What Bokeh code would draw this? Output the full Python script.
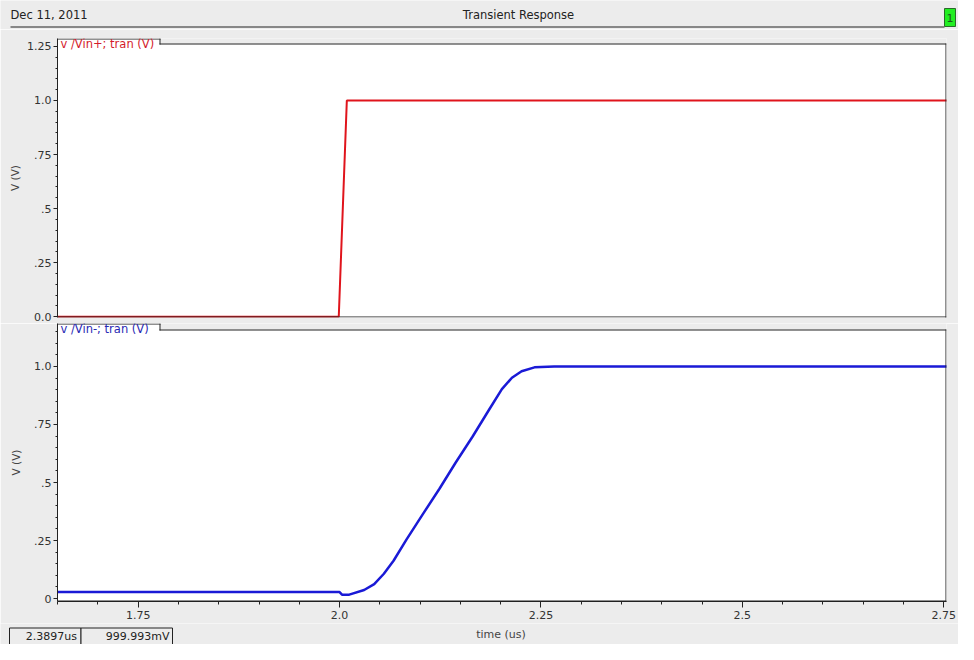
import numpy as np
from bokeh.plotting import figure
from bokeh.layouts import column
from bokeh.models import FixedTicker, Label, BoxAnnotation, Range1d
from bokeh.embed import file_html
from bokeh.resources import INLINE

# ---------------- data ----------------
date_text = "Dec 11, 2011"
title_text = "Transient Response"
top_series = "v /Vin+; tran (V)"
bottom_series = "v /Vin-; tran (V)"
x_label = "time (us)"
y_label = "V (V)"
cursor_x_text = "2.3897us"
cursor_y_text = "999.993mV"
window_num = "1"

vin_p_t = [1.65, 1.999, 2.009, 2.76]
vin_p_v = [0.0, 0.0, 1.0, 1.0]

vin_n_t = [1.65, 2.0, 2.003, 2.012, 2.0305, 2.043, 2.055, 2.067, 2.083, 2.104,
           2.124, 2.144, 2.165, 2.185, 2.2015, 2.214, 2.226, 2.242, 2.2665, 2.76]
vin_n_v = [0.028, 0.028, 0.017, 0.017, 0.037, 0.062, 0.107, 0.163, 0.254, 0.367,
           0.473, 0.585, 0.697, 0.810, 0.902, 0.951, 0.979, 0.996, 1.0, 1.0]

x_ticks = [1.75, 2.0, 2.25, 2.5, 2.75]
x_tick_labels = ["1.75", "2.0", "2.25", "2.5", "2.75"]
top_y_ticks = [0.0, 0.25, 0.5, 0.75, 1.0, 1.25]
top_y_labels = ["0.0", ".25", ".5", ".75", "1.0", "1.25"]
bot_y_ticks = [0.0, 0.25, 0.5, 0.75, 1.0]
bot_y_labels = ["0", ".25", ".5", ".75", "1.0"]

# ---------------- style ----------------
W = 958
FONT = "DejaVu Sans"
GRAY = "#ececec"
INK = "#222222"
RED = "#e0141c"
BLUE = "#1a1ad6"
XR = (1.6498, 2.7535)


def box(p, l, r, t, b, fill, line=None):
    p.add_layout(BoxAnnotation(left=l, right=r, top=t, bottom=b,
                               left_units="screen", right_units="screen",
                               top_units="screen", bottom_units="screen",
                               fill_color=fill, fill_alpha=1.0,
                               line_color=line if line else fill,
                               line_alpha=1.0 if line else 0.0,
                               line_width=1, level="overlay"))


def label(p, x, y, text, color, size, align="left"):
    p.add_layout(Label(x=x, y=y, x_units="screen", y_units="screen", text=text,
                       text_font=FONT, text_font_size=size, text_color=color,
                       text_align=align, text_baseline="middle", level="overlay"))


def strip_fig(h):
    p = figure(width=W, height=h, x_range=Range1d(0, 1), y_range=Range1d(0, 1),
               output_backend="svg", toolbar_location=None, title=None,
               x_axis_location=None, y_axis_location=None,
               min_border_left=0, min_border_right=0, min_border_top=0, min_border_bottom=0)
    p.frame_align = False
    p.border_fill_color = GRAY
    p.background_fill_color = GRAY
    p.outline_line_color = None
    p.grid.visible = False
    return p


def style_yaxis(p, ticks, labels, label_standoff):
    minor = [float(v) for v in np.round(np.arange(0, 1.3, 0.05), 2)]
    p.yaxis.ticker = FixedTicker(ticks=ticks, minor_ticks=minor)
    p.yaxis.major_label_overrides = {t: l for t, l in zip(ticks, labels)}
    p.yaxis.axis_label = y_label
    p.yaxis.axis_label_text_font = FONT
    p.yaxis.axis_label_text_font_size = "10.5px"
    p.yaxis.axis_label_text_font_style = "normal"
    p.yaxis.axis_label_text_color = "#444444"
    p.yaxis.axis_label_standoff = label_standoff
    p.yaxis.major_label_text_font = FONT
    p.yaxis.major_label_text_font_size = "11px"
    p.yaxis.major_label_text_color = "#333333"
    p.yaxis.major_label_standoff = 2
    p.yaxis.major_tick_out = 4
    p.yaxis.major_tick_in = 0
    p.yaxis.minor_tick_out = 2
    p.yaxis.minor_tick_in = 0
    p.yaxis.axis_line_color = INK
    p.yaxis.major_tick_line_color = INK
    p.yaxis.minor_tick_line_color = INK


def panel_fig(h, top, bottom, yr, xaxis):
    p = figure(width=W, height=h, x_range=Range1d(*XR), y_range=Range1d(*yr),
               output_backend="svg", toolbar_location=None, title=None,
               x_axis_location="below" if xaxis else None,
               min_border_left=57, min_border_right=12,
               min_border_top=top, min_border_bottom=bottom)
    p.frame_align = False
    p.border_fill_color = GRAY
    p.background_fill_color = "white"
    p.outline_line_color = None
    p.grid.visible = False
    return p


def frame_deco(p, fh, line_sy, series, color, text_sy):
    fw = 889
    tab_r = 103
    # gray strip above the frame line, right of the tab
    box(p, tab_r, fw + 1, fh + 1, line_sy, GRAY)
    # frame top line right of the tab
    box(p, tab_r - 1, fw, line_sy, line_sy - 1, INK)
    # tab top and right border
    box(p, -1, tab_r, fh, fh - 1, INK)
    box(p, tab_r - 1, tab_r, fh, line_sy - 1, INK)
    # right frame edge
    box(p, fw - 1, fw, line_sy, -1, INK)
    # bottom frame edge
    box(p, 0, fw, 1, 0, INK)
    label(p, 3, text_sy, series, color, "11.5px")


# ---------------- header ----------------
hdr = strip_fig(29)
label(hdr, 10, 14.5, date_text, INK, "11.5px")
label(hdr, 518, 14.5, title_text, INK, "11.5px", align="center")
box(hdr, 10, 944, 3, 2, INK)
box(hdr, 944, 955, 21, 3, "#22ee22", "#2a6a2a")
label(hdr, 949.5, 12, window_num, "#1a5a1a", "11px", align="center")

# ---------------- top panel ----------------
p1 = panel_fig(294, 9, 6, (-0.0037, 1.2865), False)
p1.line(vin_p_t, vin_p_v, line_color=RED, line_width=2)
style_yaxis(p1, top_y_ticks, top_y_labels, 3)
frame_deco(p1, 279, 274, top_series, "#d41c2c", 273.6)

# ---------------- bottom panel ----------------
p2 = panel_fig(300, 0, 22, (-0.0125, 1.1848), True)
p2.line(vin_n_t, vin_n_v, line_color=BLUE, line_width=2.5)
style_yaxis(p2, bot_y_ticks, bot_y_labels, 9)
p2.xaxis.ticker = FixedTicker(ticks=x_ticks,
                              minor_ticks=[float(v) for v in np.round(np.arange(1.65, 2.76, 0.05), 2)])
p2.xaxis.major_label_overrides = {t: l for t, l in zip(x_ticks, x_tick_labels)}
p2.xaxis.major_label_text_font = FONT
p2.xaxis.major_label_text_font_size = "11px"
p2.xaxis.major_label_text_color = "#333333"
p2.xaxis.major_label_standoff = 3
p2.xaxis.major_tick_out = 6
p2.xaxis.major_tick_in = 0
p2.xaxis.minor_tick_out = 3
p2.xaxis.minor_tick_in = 0
p2.xaxis.axis_line_color = INK
p2.xaxis.major_tick_line_color = INK
p2.xaxis.minor_tick_line_color = INK
frame_deco(p2, 278, 272, bottom_series, "#2828b4", 273)

# ---------------- footer: cursor readouts + x label ----------------
ftr = strip_fig(21)
box(ftr, 9, 80.5, 16.5, -5, GRAY, INK)
box(ftr, 80.5, 172, 16.5, -5, GRAY, INK)
label(ftr, 76.5, 8, cursor_x_text, INK, "11px", align="right")
label(ftr, 169, 8, cursor_y_text, INK, "11px", align="right")
label(ftr, 500.5, 10, x_label, "#444444", "11px", align="center")

layout = column(hdr, p1, p2, ftr, spacing=0)
open("out.html", "w").write(file_html(layout, INLINE))
